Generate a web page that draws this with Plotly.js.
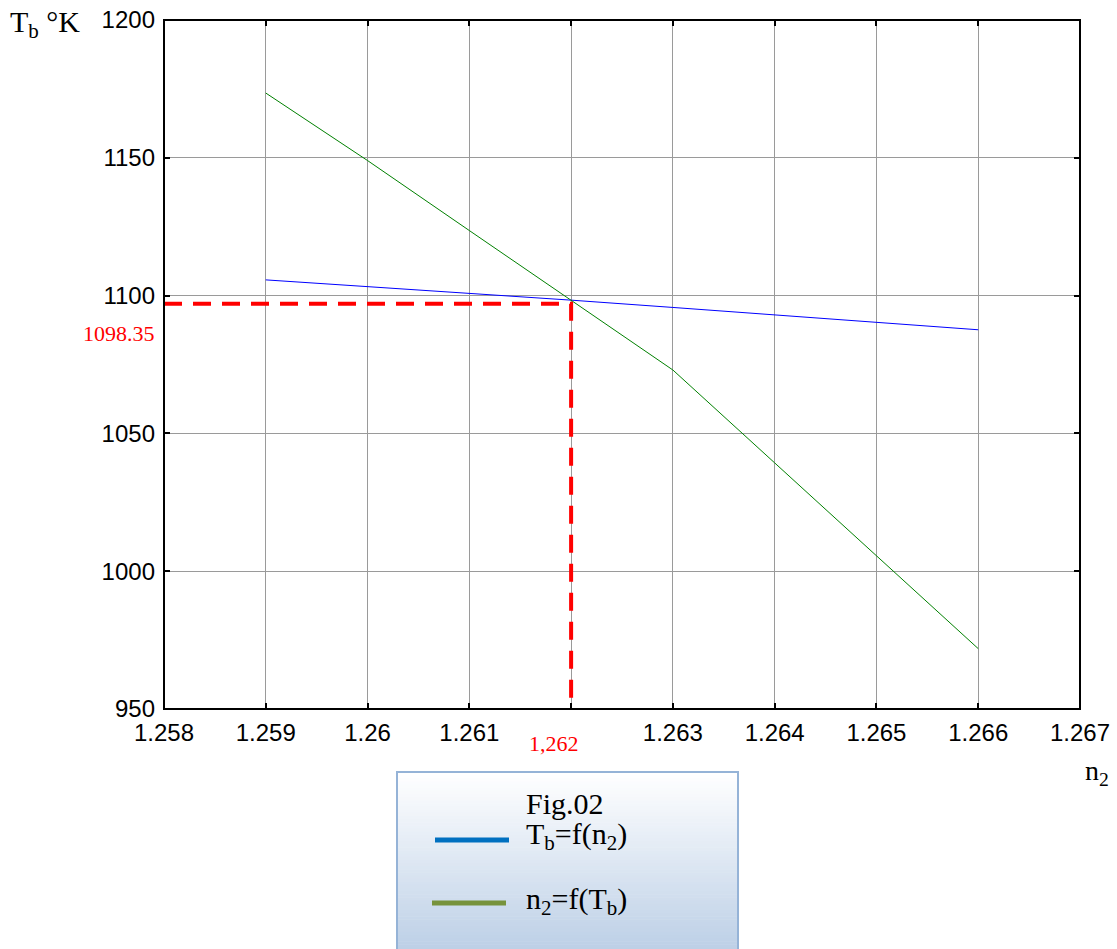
<!DOCTYPE html>
<html><head><meta charset="utf-8">
<script src="https://cdn.plot.ly/plotly-3.0.1.min.js"></script>
<style>body{margin:0;background:#fff}#c{width:1117px;height:949px}</style>
</head><body><div id="c"></div>
<script>
const n2Values = [1.259, 1.260, 1.261, 1.262, 1.263, 1.264, 1.265, 1.266];
const tbBlue = [1105.7, 1103.3, 1100.8, 1098.35, 1095.7, 1093.0, 1090.3, 1087.6];
const tbGreen = [1173.5, 1149.0, 1123.6, 1098.35, 1073.0, 1039.3, 1005.6, 971.9];
const xTickVals = [1.258, 1.259, 1.260, 1.261, 1.262, 1.263, 1.264, 1.265, 1.266, 1.267];
const xTickText = ['1.258', '1.259', '1.26', '1.261', '', '1.263', '1.264', '1.265', '1.266', '1.267'];
const yTickVals = [950, 1000, 1050, 1100, 1150, 1200];
const markN2 = 1.262;
const markTbLine = 1097;
const markTbLabel = '1098.35';
const markN2Label = '1,262';

const serif = 'Liberation Serif, Times New Roman, serif';
const sans = 'Liberation Sans, Arial, sans-serif';

const traces = [
  {x: n2Values, y: tbBlue, mode: 'lines', line: {color: '#0000ff', width: 1}, showlegend: false, hoverinfo: 'skip'},
  {x: n2Values, y: tbGreen, mode: 'lines', line: {color: '#008000', width: 1}, showlegend: false, hoverinfo: 'skip'},
  {x: [1.258, markN2, markN2], y: [markTbLine, markTbLine, 950], mode: 'lines', line: {color: '#ff0000', width: 4, dash: '18px,11px'}, showlegend: false, hoverinfo: 'skip', cliponaxis: false}
];

const W = 1117, H = 949, L = 164, R = 37, T = 20, B = 240;
const pw = W - L - R, ph = H - T - B;
function px(x) { return (x - L) / pw; }
function py(y) { return (H - B - y) / ph; }
const shapes = [];
const bx0 = 397, bx1 = 738, by0 = 772, by1 = 960;
const nb = 60;
for (let i = 0; i < nb; i++) {
  const t = i / (nb - 1);
  const c0 = [255, 255, 255], c1 = [185, 205, 229];
  const c = c0.map((v, k) => Math.round(v + (c1[k] - v) * t));
  shapes.push({type: 'rect', xref: 'paper', yref: 'paper', layer: 'above',
    x0: px(bx0), x1: px(bx1), y0: py(by0 + (by1 - by0) * i / nb), y1: py(by0 + (by1 - by0) * (i + 1) / nb + 0.5),
    fillcolor: `rgb(${c[0]},${c[1]},${c[2]})`, line: {width: 0}});
}
shapes.push({type: 'rect', xref: 'paper', yref: 'paper', layer: 'above',
  x0: px(bx0), x1: px(bx1), y0: py(by0), y1: py(by1), fillcolor: 'rgba(0,0,0,0)', line: {color: '#95b3d7', width: 2}});
shapes.push({type: 'line', xref: 'paper', yref: 'paper', layer: 'above', x0: px(435), x1: px(509), y0: py(840), y1: py(840), line: {color: '#0070c0', width: 5}});
shapes.push({type: 'line', xref: 'paper', yref: 'paper', layer: 'above', x0: px(432), x1: px(506), y0: py(903), y1: py(903), line: {color: '#77933c', width: 5}});
shapes.push({type: 'rect', xref: 'paper', yref: 'paper', x0: 0, x1: 1, y0: 0, y1: 1, line: {color: '#000', width: 2}, layer: 'above'});

const legFont = {family: serif, size: 30, color: '#000'};
const annotations = [
  {xref: 'paper', yref: 'paper', x: px(8), y: py(24), xanchor: 'left', yanchor: 'middle', showarrow: false,
   text: 'T<sub>b</sub> °K', font: {family: serif, size: 30, color: '#000'}},
  {xref: 'paper', yref: 'paper', x: px(1083), y: py(772), xanchor: 'left', yanchor: 'middle', showarrow: false,
   text: 'n<sub>2</sub>', font: {family: serif, size: 28, color: '#000'}},
  {xref: 'paper', yref: 'paper', x: px(554), y: py(743), xanchor: 'center', yanchor: 'middle', showarrow: false,
   text: markN2Label, font: {family: serif, size: 22, color: '#ff0000'}},
  {xref: 'paper', yref: 'paper', x: px(157), y: py(333), xanchor: 'right', yanchor: 'middle', showarrow: false,
   text: markTbLabel, font: {family: serif, size: 22, color: '#ff0000'}},
  {xref: 'paper', yref: 'paper', x: px(524), y: py(803), xanchor: 'left', yanchor: 'middle', showarrow: false,
   text: 'Fig.02', font: legFont},
  {xref: 'paper', yref: 'paper', x: px(524), y: py(836), xanchor: 'left', yanchor: 'middle', showarrow: false,
   text: 'T<sub>b</sub>=f(n<sub>2</sub>)', font: legFont},
  {xref: 'paper', yref: 'paper', x: px(524), y: py(901), xanchor: 'left', yanchor: 'middle', showarrow: false,
   text: 'n<sub>2</sub>=f(T<sub>b</sub>)', font: legFont}
];

const layout = {
  width: W, height: H,
  margin: {l: L, r: R, t: T, b: B, pad: 0},
  paper_bgcolor: '#fff', plot_bgcolor: '#fff',
  showlegend: false,
  xaxis: {range: [1.258, 1.267], tickvals: xTickVals, ticktext: xTickText,
    ticks: 'inside', ticklen: 6, tickwidth: 2, tickcolor: '#000', mirror: 'ticks',
    showline: false, showgrid: true, gridcolor: '#9a9a9a', gridwidth: 1, zeroline: false,
    tickfont: {family: sans, size: 24, color: '#000'}, ticklabelstandoff: 7},
  yaxis: {range: [950, 1200], tickvals: yTickVals,
    ticks: 'inside', ticklen: 6, tickwidth: 2, tickcolor: '#000', mirror: 'ticks',
    showline: false, showgrid: true, gridcolor: '#9a9a9a', gridwidth: 1, zeroline: false,
    tickfont: {family: sans, size: 24, color: '#000'}, ticklabelstandoff: 8},
  shapes: shapes,
  annotations: annotations
};
Plotly.newPlot('c', traces, layout, {staticPlot: true, displayModeBar: false});
</script></body></html>
